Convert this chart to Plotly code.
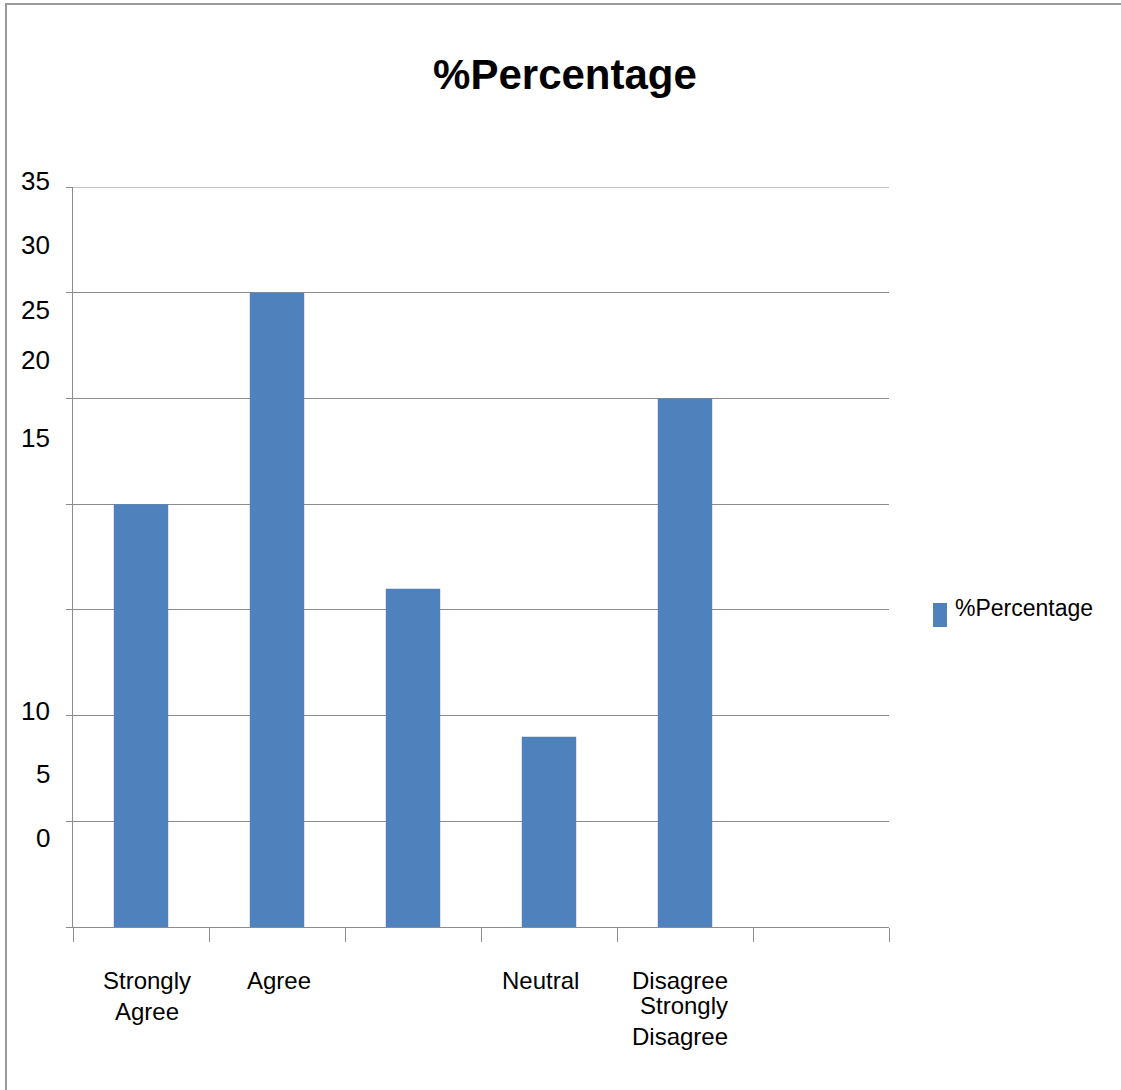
import plotly.graph_objects as go

# Survey responses (percent) per answer slot; the last slot is empty
slots = [0, 1, 2, 3, 4, 5]
percent = [20, 30, 16, 9, 25, None]

# Category captions written under the axis
cat_labels = ["Strongly<br>Agree", "Agree", "Neutral", "Disagree", "Strongly<br>Disagree"]

# Y tick captions
ytick_text = ["35", "30", "25", "20", "15", "10", "5", "0"]

series_name = "%Percentage"
title_text = "%Percentage"

W, H = 1121, 1090
L, R, T, B = 73, 232, 187, 163
PW, PH = W - L - R, H - T - B
BAR = "#4F81BD"
GRID = "#8C8C8C"
FONT = "Liberation Sans, Arial, sans-serif"


def px_x(px):
    return (px - L) / PW


def px_y(py):
    return (H - B - py) / PH


fig = go.Figure()
fig.add_trace(go.Bar(
    x=slots, y=percent, name=series_name, width=0.4,
    marker=dict(color=BAR, line=dict(width=0)), showlegend=False,
))

fig.update_layout(
    width=W, height=H,
    margin=dict(l=L, r=R, t=T, b=B, pad=0),
    paper_bgcolor="white", plot_bgcolor="white",
    font=dict(family=FONT, color="black"),
    title=dict(text=f"<b>{title_text}</b>", x=565 / W, xanchor="center",
               y=1 - 74 / H, yanchor="middle",
               font=dict(size=42, family=FONT, color="black")),
    xaxis=dict(range=[-0.5, 5.5], tickmode="array",
               tickvals=[s - 0.5 for s in slots] + [5.5],
               showticklabels=False, ticks="outside", ticklen=14,
               tickcolor=GRID, tickwidth=1, showgrid=False, zeroline=False,
               showline=True, linecolor=GRID, linewidth=1),
    yaxis=dict(range=[0, 35], tickmode="array",
               tickvals=[0, 5, 10, 15, 20, 25, 30, 35],
               showticklabels=False, ticks="outside", ticklen=6,
               tickcolor=GRID, tickwidth=1, showgrid=True, gridcolor=GRID,
               gridwidth=1, zeroline=False, showline=True, linecolor=GRID,
               linewidth=1),
    bargap=0.6,
)

# Top gridline at the axis maximum
fig.add_shape(type="line", xref="paper", yref="y", x0=0, x1=1, y0=35, y1=35,
              line=dict(color=GRID, width=1))

# Y tick captions, placed at their printed heights
ytick_pos = [181, 245, 310, 360, 438, 711, 774, 838]
for txt, py in zip(ytick_text, ytick_pos):
    fig.add_annotation(text=txt, xref="paper", yref="paper",
                       x=px_x(52), y=px_y(py), xanchor="right", yanchor="middle",
                       showarrow=False, font=dict(size=26, family=FONT))

# Category captions under the axis
cat_pos = [(147, 996, "center"), (279, 980, "center"), (540, 980, "center"),
           (680, 980, "center"), (730, 1021, "right")]
for txt, (px, py, al) in zip(cat_labels, cat_pos):
    fig.add_annotation(text=txt, xref="paper", yref="paper",
                       x=px_x(px), y=px_y(py),
                       xanchor="right" if al == "right" else "center",
                       yanchor="middle", align=al, showarrow=False,
                       font=dict(size=24, family=FONT))

# Legend: swatch and label
fig.add_shape(type="rect", xref="paper", yref="paper",
              x0=px_x(933), x1=px_x(947), y0=px_y(627), y1=px_y(603),
              fillcolor=BAR, line=dict(width=0))
fig.add_annotation(text=series_name, xref="paper", yref="paper",
                   x=px_x(953), y=px_y(608), xanchor="left", yanchor="middle",
                   showarrow=False, font=dict(size=23, family=FONT))

# Frame lines along the left and top edges
fig.add_shape(type="line", xref="paper", yref="paper",
              x0=px_x(6), x1=px_x(6), y0=px_y(3), y1=px_y(H + 5),
              line=dict(color="#9A9A9A", width=2))
fig.add_shape(type="line", xref="paper", yref="paper",
              x0=px_x(5), x1=px_x(W + 5), y0=px_y(4), y1=px_y(4),
              line=dict(color="#9A9A9A", width=2))

fig.write_html("out.html")
